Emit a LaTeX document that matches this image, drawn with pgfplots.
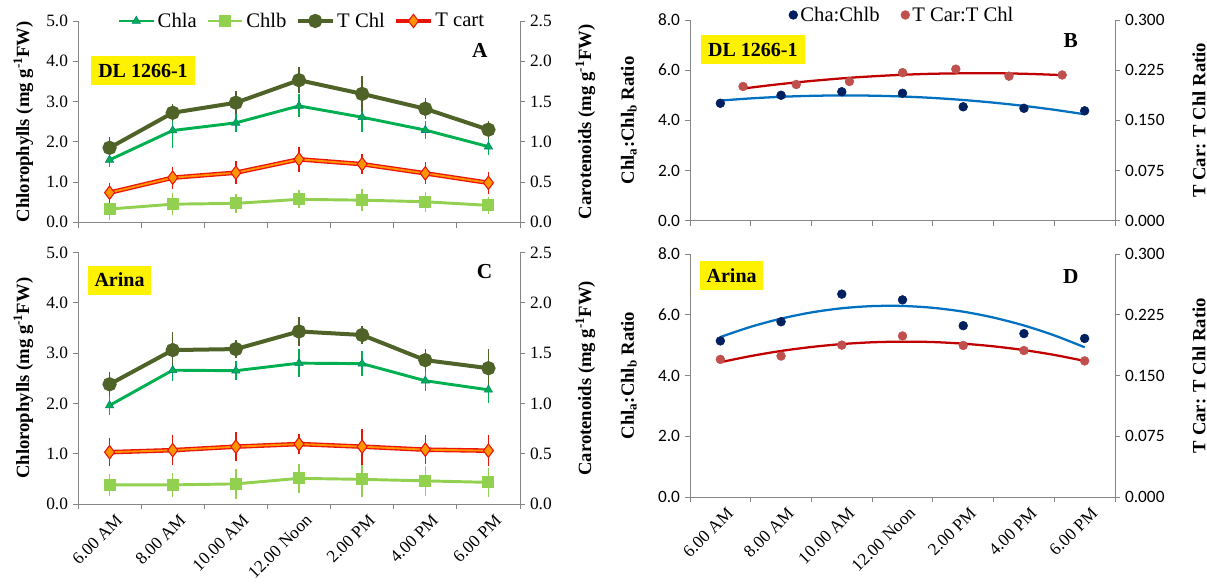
\documentclass[border=0pt]{standalone}
\usepackage{fontspec}
\setmainfont{Liberation Serif}
\newfontfamily\calibri{Carlito}
\usepackage{pgfplots}
\pgfplotsset{compat=1.18}
\usepackage{pgfplotstable}

\definecolor{axisgray}{RGB}{134,134,134}
\definecolor{chla}{RGB}{0,176,80}
\definecolor{chlb}{RGB}{146,208,80}
\definecolor{tchl}{RGB}{79,98,40}
\definecolor{tcarline}{RGB}{255,150,0}
\definecolor{tcarred}{RGB}{235,20,10}
\definecolor{navy}{RGB}{0,32,96}
\definecolor{trendblue}{RGB}{0,112,192}
\definecolor{dotred}{RGB}{192,80,77}
\definecolor{trendred}{RGB}{192,0,0}

% Panel A (DL 1266-1)
\pgfplotstableread{
x chla ea chlb eb tchl et tcar ec
0 1.55 0.06 0.33 0.16 1.85 0.17 0.368 0.070
1 2.28 0.32 0.45 0.16 2.72 0.10 0.554 0.083
2 2.47 0.12 0.47 0.13 2.97 0.18 0.616 0.090
3 2.89 0.18 0.57 0.12 3.53 0.22 0.782 0.100
4 2.61 0.27 0.55 0.17 3.19 0.33 0.722 0.070
5 2.29 0.12 0.51 0.14 2.82 0.16 0.608 0.085
6 1.88 0.10 0.42 0.11 2.30 0.12 0.490 0.085
}\tabA
% Panel C (Arina)
\pgfplotstableread{
x chla ea chlb eb tchl et tcar ec
0 1.96 0.10 0.38 0.13 2.38 0.15 0.515 0.095
1 2.66 0.13 0.38 0.16 3.06 0.27 0.535 0.105
2 2.65 0.10 0.40 0.22 3.08 0.10 0.570 0.105
3 2.80 0.19 0.51 0.21 3.43 0.21 0.596 0.060
4 2.79 0.16 0.49 0.26 3.36 0.10 0.570 0.135
5 2.45 0.12 0.46 0.22 2.86 0.14 0.540 0.100
6 2.27 0.18 0.43 0.21 2.70 0.30 0.530 0.110
}\tabC
% Panel B ratios
\pgfplotstableread{
x y
0 4.68
1 5.00
2 5.14
3 5.08
4 4.54
5 4.48
6 4.38
}\tabBblue
\pgfplotstableread{
x y
0.374 0.2006
1.250 0.2036
2.126 0.2081
3.002 0.2213
3.878 0.2265
4.754 0.2160
5.630 0.2178
}\tabBred
\pgfplotstableread{
x y
0 4.787
0.5 4.875
1 4.938
1.5 4.977
2 4.993
2.5 4.983
3 4.950
3.5 4.893
4 4.811
4.5 4.705
5 4.576
5.5 4.421
6 4.243
}\tabBbluefit
\pgfplotstableread{
x y
0.374 0.1975
0.812 0.2024
1.250 0.2067
1.688 0.2104
2.126 0.2136
2.564 0.2161
3.002 0.2181
3.440 0.2195
3.878 0.2202
4.316 0.2205
4.754 0.2201
5.192 0.2191
5.630 0.2176
}\tabBredfit
% Panel D ratios
\pgfplotstableread{
x y
0 5.14
1 5.77
2 6.68
3 6.49
4 5.64
5 5.38
6 5.22
}\tabDblue
\pgfplotstableread{
x y
0 0.1699
1 0.1740
2 0.1875
3 0.1988
4 0.1871
5 0.1808
6 0.1680
}\tabDred
\pgfplotstableread{
x y
0 5.267
0.5 5.603
1 5.873
1.5 6.077
2 6.214
2.5 6.285
3 6.290
3.5 6.229
4 6.102
4.5 5.907
5 5.647
5.5 5.321
6 4.929
}\tabDbluefit
\pgfplotstableread{
x y
0 0.1664
0.5 0.1740
1 0.1803
1.5 0.1852
2 0.1888
2.5 0.1910
3 0.1918
3.5 0.1913
4 0.1893
4.5 0.1860
5 0.1814
5.5 0.1754
6 0.1680
}\tabDredfit

\pgfplotsset{
  /pgf/number format/assume math mode=true,
  panel/.style={scale only axis, xmin=-0.5, xmax=6.5, clip=false,
    axis line style={draw=axisgray, line width=0.7pt},
    tick style={draw=axisgray, line width=0.7pt},
    major tick length=4pt, minor tick length=4pt, tick align=outside,
    xtick={0,...,6}, major x tick style={draw=none},
    minor xtick={-0.5,0.5,...,6.5},
    tick label style={font=\fontsize{13}{13}\selectfont},
    ylabel style={font=\bfseries\fontsize{14}{14}\selectfont},
  },
  primary/.style={panel, axis y line*=left, axis x line*=bottom},
  secondary/.style={panel, axis y line*=right, axis x line=none},
  dec1/.style={yticklabel style={/pgf/number format/fixed, /pgf/number format/fixed zerofill, /pgf/number format/precision=1}},
  dec3/.style={yticklabel style={/pgf/number format/fixed, /pgf/number format/fixed zerofill, /pgf/number format/precision=3}},
  calib/.style={yticklabel style={/tikz/font=\calibri\fontsize{13}{13}\selectfont}},
  timelabels/.style={xticklabels={6.00 AM,8.00 AM,10.00 AM,12.00 Noon,2.00 PM,4.00 PM,6.00 PM},
    xticklabel style={rotate=45, anchor=north east, font=\fontsize{13}{13}\selectfont, inner sep=1pt, yshift=-4pt, xshift=2pt}},
  ebar/.style={/pgfplots/error bars/y dir=both, /pgfplots/error bars/y explicit,
    /pgfplots/error bars/error bar style={line width=1pt, #1},
    /pgfplots/error bars/error mark=-,
    /pgfplots/error bars/error mark options={line width=1pt, mark size=3.2pt, #1}},
  sChla/.style={chla, line width=2.2pt, mark=triangle*, mark size=3.6pt, mark options={solid, line width=0.4pt, fill=chla, draw=teal}},
  sChlb/.style={chlb, line width=2.2pt, mark=square*, mark size=3.4pt, mark options={solid, fill=chlb, draw=chlb}},
  sTchl/.style={tchl, line width=3pt, mark=*, mark size=3.8pt, mark options={solid, fill=tchl, draw=tchl}},
  sTcar/.style={tcarline, line width=1.4pt, mark=diamond*, mark size=5pt, mark options={solid, fill=tcarline, draw=tcarred, line width=0.8pt}},
  legA/.style={legend columns=4, legend cell align=left,
    legend style={draw=none, fill=none, font=\fontsize{15.5}{15.5}\selectfont,
      at={(rel axis cs:0.507,1.0)}, anchor=center,
      /tikz/every even column/.append style={column sep=5pt}},
    legend image code/.code={\draw[mark repeat=2,mark phase=2] plot coordinates {(0pt,0pt)(13pt,0pt)(26pt,0pt)};}},
  legB/.style={legend columns=2, legend cell align=left,
    legend style={draw=none, fill=none, font=\fontsize{15.5}{15.5}\selectfont,
      at={(rel axis cs:0.5,1.025)}, anchor=center,
      /tikz/every even column/.append style={column sep=14pt}}},
}

\newcommand{\ybox}[3]{\node[fill=yellow, inner sep=0pt, minimum width=#2, minimum height=21.75pt, font=\bfseries\fontsize{15}{15}\selectfont] at #1 {#3};}

\begin{document}
\begin{tikzpicture}
\path[use as bounding box] (0,0) rectangle (905.25pt,439.5pt);

% ---------------- Panel A ----------------
\begin{axis}[primary, dec1, at={(58.5pt,272.78pt)}, anchor=south west,
  width=331.5pt, height=150.98pt, ymin=0, ymax=5, ytick={0,1,2,3,4,5},
  xticklabels={}, ylabel={Chlorophylls (mg g\textsuperscript{-1}FW)}, ylabel shift=3pt]
\addplot[sChlb, ebar=chlb] table[x=x, y=chlb, y error=eb] \tabA;
\addplot[sChla, ebar=chla] table[x=x, y=chla, y error=ea] \tabA;
\addplot[sTchl, ebar=tchl] table[x=x, y=tchl, y error=et] \tabA;
\ybox{(rel axis cs:0.147,0.754)}{78pt}{DL 1266-1}
\node[font=\bfseries\fontsize{16}{16}\selectfont] at (rel axis cs:0.909,0.856) {A};
\end{axis}
\begin{axis}[secondary, dec1, at={(58.5pt,272.78pt)}, anchor=south west,
  width=331.5pt, height=150.98pt, ymin=0, ymax=2.5, ytick={0,0.5,1,1.5,2,2.5},
  ylabel={Carotenoids (mg g\textsuperscript{-1}FW)}, ylabel shift=11pt, legA]
\addplot[tcarred, line width=3.4pt, forget plot] table[x=x, y=tcar] \tabA;
\addplot[sTcar, forget plot, ebar=tcarred] table[x=x, y=tcar, y error=ec] \tabA;
\addlegendimage{sChla}\addlegendentry{Chla}
\addlegendimage{sChlb}\addlegendentry{Chlb}
\addlegendimage{sTchl}\addlegendentry{T Chl}
\addlegendimage{sTcar, draw=tcarred, line width=2.8pt}\addlegendentry{T cart}
\end{axis}

% ---------------- Panel C ----------------
\begin{axis}[primary, dec1, at={(58.5pt,61.5pt)}, anchor=south west,
  width=331.5pt, height=188.63pt, ymin=0, ymax=5, ytick={0,1,2,3,4,5},
  timelabels, ylabel={Chlorophylls (mg g\textsuperscript{-1}FW)}, ylabel shift=3pt]
\addplot[sChlb, ebar=chlb] table[x=x, y=chlb, y error=eb] \tabC;
\addplot[sChla, ebar=chla] table[x=x, y=chla, y error=ea] \tabC;
\addplot[sTchl, ebar=tchl] table[x=x, y=tchl, y error=et] \tabC;
\ybox{(rel axis cs:0.094,0.89)}{47.25pt}{Arina}
\node[font=\bfseries\fontsize{16}{16}\selectfont] at (rel axis cs:0.92,0.926) {C};
\end{axis}
\begin{axis}[secondary, dec1, at={(58.5pt,61.5pt)}, anchor=south west,
  width=331.5pt, height=188.63pt, ymin=0, ymax=2.5, ytick={0,0.5,1,1.5,2,2.5},
  ylabel={Carotenoids (mg g\textsuperscript{-1}FW)}, ylabel shift=11pt]
\addplot[tcarred, line width=3.4pt, forget plot] table[x=x, y=tcar] \tabC;
\addplot[sTcar, forget plot, ebar=tcarred] table[x=x, y=tcar, y error=ec] \tabC;
\end{axis}

% ---------------- Panel B ----------------
\begin{axis}[primary, dec1, calib, at={(517.5pt,273.98pt)}, anchor=south west,
  width=318.75pt, height=150.53pt, ymin=0, ymax=8, ytick={0,2,4,6,8},
  xticklabels={},
  ylabel={Chl\textsubscript{a}:Chl\textsubscript{b} Ratio}, ylabel shift=9pt]
\addplot[trendblue, line width=1.7pt, smooth, forget plot] table[x=x, y=y] \tabBbluefit;
\addplot[only marks, mark=*, mark size=3.3pt, navy] table[x=x, y=y] \tabBblue;
\ybox{(rel axis cs:0.148,0.852)}{78pt}{DL 1266-1}
\node[font=\bfseries\fontsize{16}{16}\selectfont] at (rel axis cs:0.896,0.897) {B};
\end{axis}
\begin{axis}[secondary, dec3, calib, at={(517.5pt,273.98pt)}, anchor=south west,
  width=318.75pt, height=150.53pt, ymin=0, ymax=0.3, ytick={0,0.075,0.15,0.225,0.3},
  ylabel={T Car: T Chl Ratio}, ylabel shift=14pt, legB]
\addplot[trendred, line width=1.7pt, smooth, forget plot] table[x=x, y=y] \tabBredfit;
\addplot[only marks, mark=*, mark size=3.3pt, dotred, forget plot] table[x=x, y=y] \tabBred;
\addlegendimage{only marks, mark=*, mark size=3.3pt, navy}\addlegendentry{Cha:Chlb}
\addlegendimage{only marks, mark=*, mark size=3.3pt, dotred}\addlegendentry{T Car:T Chl}
\end{axis}

% ---------------- Panel D ----------------
\begin{axis}[primary, dec1, calib, at={(517.5pt,66.75pt)}, anchor=south west,
  width=318.75pt, height=182.25pt, ymin=0, ymax=8, ytick={0,2,4,6,8},
  timelabels,
  ylabel={Chl\textsubscript{a}:Chl\textsubscript{b} Ratio}, ylabel shift=9pt]
\addplot[trendblue, line width=1.7pt, smooth] table[x=x, y=y] \tabDbluefit;
\addplot[only marks, mark=*, mark size=3.3pt, navy] table[x=x, y=y] \tabDblue;
\ybox{(rel axis cs:0.098,0.911)}{47.25pt}{Arina}
\node[font=\bfseries\fontsize{16}{16}\selectfont] at (rel axis cs:0.896,0.909) {D};
\end{axis}
\begin{axis}[secondary, dec3, calib, at={(517.5pt,66.75pt)}, anchor=south west,
  width=318.75pt, height=182.25pt, ymin=0, ymax=0.3, ytick={0,0.075,0.15,0.225,0.3},
  ylabel={T Car: T Chl Ratio}, ylabel shift=14pt]
\addplot[trendred, line width=1.7pt, smooth] table[x=x, y=y] \tabDredfit;
\addplot[only marks, mark=*, mark size=3.3pt, dotred] table[x=x, y=y] \tabDred;
\end{axis}
\end{tikzpicture}
\end{document}
